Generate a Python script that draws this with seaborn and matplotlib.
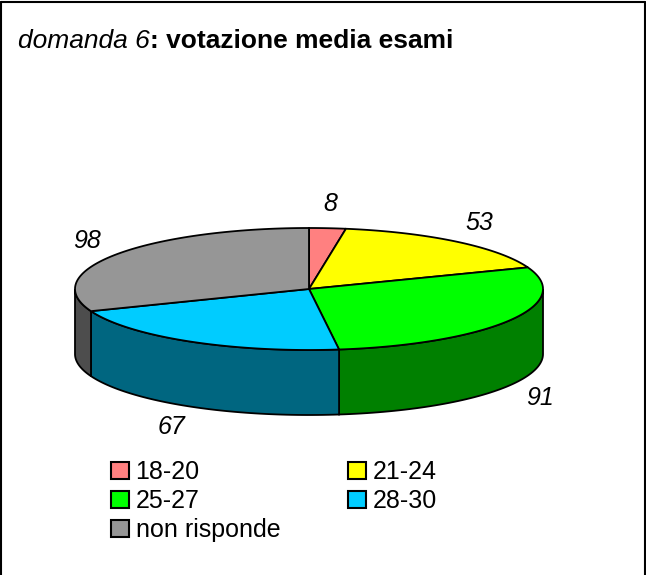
import numpy as np
import matplotlib
matplotlib.use("Agg")
import matplotlib.pyplot as plt
import seaborn as sns
from matplotlib.patches import Polygon, Patch

sns.set_style("white")
plt.rcParams['font.family'] = ['Liberation Sans', 'DejaVu Sans']
plt.rcParams['text.color'] = 'black'

# data
categories = ['18-20', '21-24', '25-27', '28-30', 'non risponde']
values = [8, 53, 91, 67, 98]
top_colors = ['#FF8080', '#FFFF00', '#00FF00', '#00CCFF', '#969696']
side_colors = ['#804040', '#808000', '#008000', '#006680', '#4D4D4D']

fig = plt.figure(figsize=(6.46, 5.75), dpi=100)
ax = fig.add_axes([0, 0, 1, 1])
ax.set_xlim(0, 646)
ax.set_ylim(575, 0)
ax.axis('off')

# pie geometry (pixels)
cx, cy, rx, ry, depth = 309, 289, 234, 61, 65

def pt(t, dy=0):
    r = np.radians(t)
    return cx + rx * np.sin(r), cy - ry * np.cos(r) + dy

total = sum(values)
bounds = np.concatenate([[0], np.cumsum(values)]) / total * 360

# side walls (front half only: 90..270 deg clockwise from top)
for i in range(len(values)):
    a, b = max(bounds[i], 90), min(bounds[i + 1], 270)
    if a >= b:
        continue
    ts = np.linspace(a, b, 60)
    upper = [pt(t) for t in ts]
    lower = [pt(t, depth) for t in ts[::-1]]
    ax.add_patch(Polygon(upper + lower, closed=True, facecolor=side_colors[i],
                         edgecolor='black', lw=1.3, zorder=2))

# top faces
for i in range(len(values)):
    ts = np.linspace(bounds[i], bounds[i + 1], 80)
    poly = [(cx, cy)] + [pt(t) for t in ts]
    ax.add_patch(Polygon(poly, closed=True, facecolor=top_colors[i],
                         edgecolor='black', lw=1.3, zorder=3))

# value labels
for i, v in enumerate(values):
    m = np.radians((bounds[i] + bounds[i + 1]) / 2)
    lx = cx + rx * 1.15 * np.sin(m)
    ly = cy - ry * 1.4 * np.cos(m)
    if np.cos(m) < 0:
        ly += depth
    ax.text(lx, ly, str(v), ha='center', va='center', fontsize=18,
            style='italic', zorder=5)

# title
t1 = ax.text(18, 48, 'domanda 6', fontsize=19, style='italic', va='baseline')
ax.annotate(': votazione media esami', xy=(1, 0), xycoords=t1,
            fontsize=19, fontweight='bold', va='bottom')

# legend, row-wise order
handles = [Patch(facecolor=c, edgecolor='black', lw=1.5) for c in top_colors]
order = [0, 2, 4, 1, 3]
ax.legend([handles[k] for k in order], [categories[k] for k in order],
          ncol=2, loc='upper left', bbox_to_anchor=(0.144, 0.23),
          frameon=False, fontsize=18, handlelength=0.72, handleheight=0.72,
          handletextpad=0.28, columnspacing=2.7, labelspacing=0.2,
          borderpad=0.2)

# frame around the chart area (no bottom edge)
for xs, ys in [([0, 0], [0, 1]), ([0, 1], [1, 1]), ([1, 1], [0, 1])]:
    fig.add_artist(plt.Line2D([x * 0.997 + 0.0015 for x in xs],
                              [y * 0.997 for y in ys],
                              color='black', lw=1.5, transform=fig.transFigure))

fig.savefig('out.png', dpi=100)
